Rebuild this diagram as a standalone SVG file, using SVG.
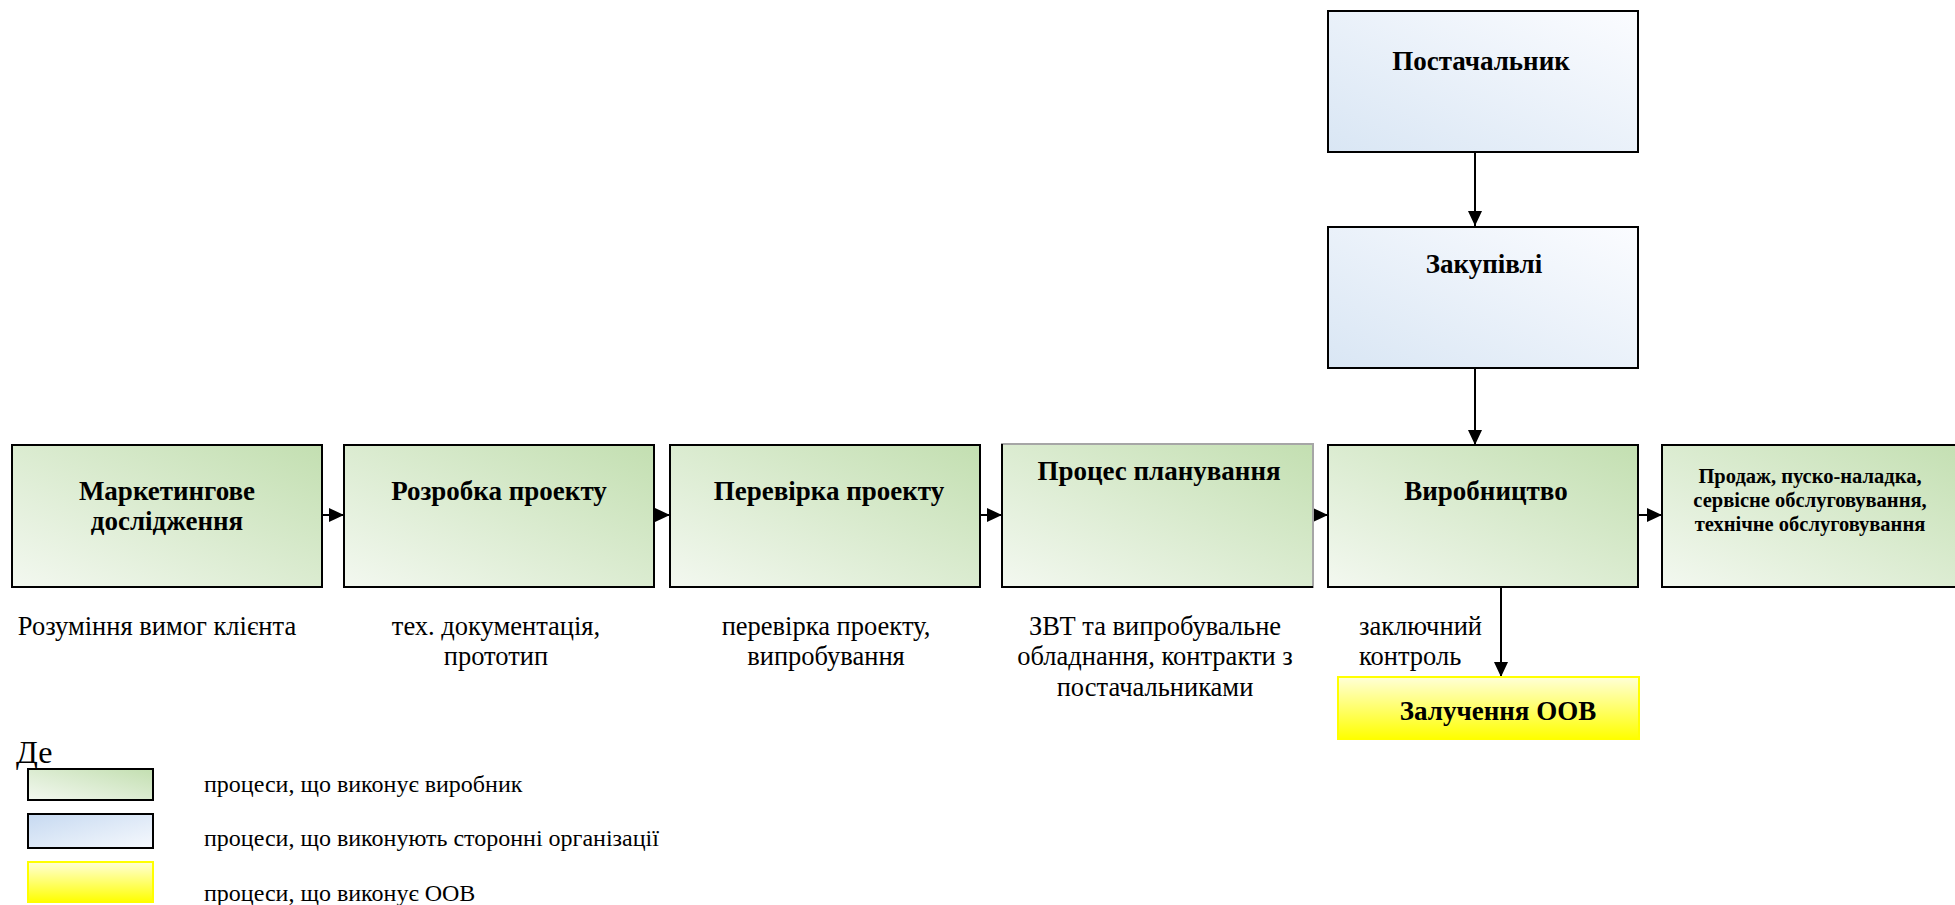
<svg xmlns="http://www.w3.org/2000/svg" width="1955" height="905" viewBox="0 0 1955 905">
<defs>
<linearGradient id="gGreen" x1="0" y1="1" x2="1" y2="0">
<stop offset="0" stop-color="#f3f8f0"/>
<stop offset="1" stop-color="#c3dfb1"/>
</linearGradient>
<linearGradient id="gBlue" x1="0" y1="1" x2="1" y2="0">
<stop offset="0" stop-color="#d9e6f4"/>
<stop offset="1" stop-color="#fbfcff"/>
</linearGradient>
<linearGradient id="gBlueL" x1="0" y1="0" x2="1" y2="1">
<stop offset="0" stop-color="#c6d9f1"/>
<stop offset="1" stop-color="#f6f9fd"/>
</linearGradient>
<linearGradient id="gYellow" x1="0" y1="0" x2="0" y2="1">
<stop offset="0" stop-color="#ffffd8"/>
<stop offset="1" stop-color="#ffff00"/>
</linearGradient>
<marker id="arr" markerUnits="userSpaceOnUse" markerWidth="16" markerHeight="16" refX="15" refY="8" orient="auto">
<path d="M0,1 L15,8 L0,15 Z" fill="#000"/>
</marker>
<style>
.g{fill:url(#gGreen);stroke:#000;stroke-width:2}
.b{fill:url(#gBlue);stroke:#000;stroke-width:2}
.y{fill:url(#gYellow);stroke:#ffff00;stroke-width:2}
.t{font-family:"Liberation Serif","Times New Roman",serif;font-weight:bold;font-size:27px;fill:#000;text-anchor:middle}
.ts{font-family:"Liberation Serif","Times New Roman",serif;font-weight:bold;font-size:20.5px;fill:#000;text-anchor:middle}
.d{font-family:"Liberation Serif","Times New Roman",serif;font-size:26.5px;fill:#000;text-anchor:middle}
.l{font-family:"Liberation Serif","Times New Roman",serif;font-size:24px;fill:#000}
.c{stroke:#000;stroke-width:2;fill:none;marker-end:url(#arr)}
</style>
</defs>
<rect width="1955" height="905" fill="#fff"/>

<g id="connectors">
<line class="c" x1="322" y1="515" x2="344" y2="515"/>
<line class="c" x1="654" y1="515" x2="670" y2="515"/>
<line class="c" x1="980" y1="515" x2="1002" y2="515"/>
<line class="c" x1="1312" y1="515" x2="1328" y2="515"/>
<line class="c" x1="1638" y1="515" x2="1662" y2="515"/>
<line class="c" x1="1475" y1="152" x2="1475" y2="226"/>
<line class="c" x1="1475" y1="368" x2="1475" y2="445"/>
<line class="c" x1="1501" y1="587" x2="1501" y2="677"/>
</g>

<g id="n-supplier">
<rect class="b" x="1328" y="11" width="310" height="141"/>
<text class="t" x="1481" y="70">Постачальник</text>
</g>
<g id="n-purchase">
<rect class="b" x="1328" y="227" width="310" height="141"/>
<text class="t" x="1484" y="273">Закупівлі</text>
</g>

<g id="n-marketing">
<rect class="g" x="12" y="445" width="310" height="142"/>
<text class="t" x="167" y="500">Маркетингове</text>
<text class="t" x="167" y="530">дослідження</text>
</g>
<g id="n-design">
<rect class="g" x="344" y="445" width="310" height="142"/>
<text class="t" x="499" y="500">Розробка проекту</text>
</g>
<g id="n-verify">
<rect class="g" x="670" y="445" width="310" height="142"/>
<text class="t" x="829" y="500">Перевірка проекту</text>
</g>
<g id="n-planning">
<rect x="1002" y="444" width="311" height="143" fill="url(#gGreen)" stroke="#a6a6a6" stroke-width="2"/>
<path d="M1002,444 V587 H1313" fill="none" stroke="#000" stroke-width="2"/>
<text class="t" x="1159" y="480">Процес планування</text>
</g>
<g id="n-production">
<rect class="g" x="1328" y="445" width="310" height="142"/>
<text class="t" x="1486" y="500">Виробництво</text>
</g>
<g id="n-sales">
<rect class="g" x="1662" y="445" width="310" height="142"/>
<text class="ts" x="1810" y="483">Продаж, пуско-наладка,</text>
<text class="ts" x="1810" y="507">сервісне обслуговування,</text>
<text class="ts" x="1810" y="531">технічне обслуговування</text>
</g>
<g id="n-oov">
<rect class="y" x="1338" y="677" width="301" height="62"/>
<text class="t" x="1498" y="720">Залучення ООВ</text>
</g>

<g id="labels">
<text class="d" x="157" y="635">Розуміння вимог клієнта</text>
<text class="d" x="496" y="635">тех. документація,</text>
<text class="d" x="496" y="665">прототип</text>
<text class="d" x="826" y="635">перевірка проекту,</text>
<text class="d" x="826" y="665">випробування</text>
<text class="d" x="1155" y="635">ЗВТ та випробувальне</text>
<text class="d" x="1155" y="665">обладнання, контракти з</text>
<text class="d" x="1155" y="696">постачальниками</text>
<text class="d" x="1359" y="635" style="text-anchor:start">заключний</text>
<text class="d" x="1359" y="665" style="text-anchor:start">контроль</text>
</g>

<g id="legend">
<text x="16" y="763" style="font-family:'Liberation Serif','Times New Roman',serif;font-size:32px">Де</text>
<rect x="28" y="769" width="125" height="31" class="g"/>
<rect x="28" y="814" width="125" height="34" fill="url(#gBlueL)" stroke="#000" stroke-width="2"/>
<rect x="28" y="862" width="125" height="40" class="y"/>
<text class="l" x="204" y="792">процеси, що виконує виробник</text>
<text class="l" x="204" y="846">процеси, що виконують сторонні організації</text>
<text class="l" x="204" y="901">процеси, що виконує ООВ</text>
</g>
</svg>
